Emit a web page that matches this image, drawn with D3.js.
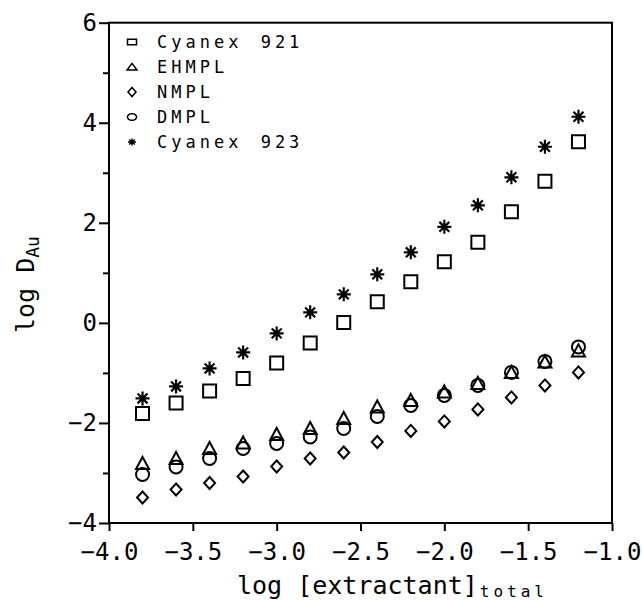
<!DOCTYPE html>
<html>
<head>
<meta charset="utf-8">
<script src="https://cdn.jsdelivr.net/npm/d3@7"></script>
<style>
  html, body { margin: 0; padding: 0; background: #fff; }
  svg { display: block; }
  text { font-family: "DejaVu Sans Mono", "Liberation Mono", monospace; fill: #000; }
</style>
</head>
<body>
<svg id="chart" width="642" height="600"></svg>
<script>
// ---- data ----
const logExtractant = [-3.8, -3.6, -3.4, -3.2, -3.0, -2.8, -2.6, -2.4, -2.2, -2.0, -1.8, -1.6, -1.4, -1.2];
const cyanex921 = [-1.81, -1.60, -1.36, -1.11, -0.80, -0.40, 0.01, 0.42, 0.82, 1.22, 1.61, 2.22, 2.83, 3.62];
const ehmpl     = [-2.81, -2.71, -2.51, -2.40, -2.23, -2.11, -1.91, -1.68, -1.55, -1.38, -1.21, -0.99, -0.78, -0.56];
const nmpl      = [-3.49, -3.33, -3.20, -3.07, -2.87, -2.71, -2.59, -2.38, -2.16, -1.97, -1.73, -1.49, -1.25, -0.99];
const dmpl      = [-3.03, -2.88, -2.71, -2.51, -2.41, -2.28, -2.11, -1.87, -1.65, -1.45, -1.25, -0.99, -0.77, -0.48];
const cyanex923 = [-1.51, -1.27, -0.91, -0.59, -0.21, 0.21, 0.57, 0.97, 1.41, 1.92, 2.35, 2.91, 3.52, 4.12];
const seriesNames = ["Cyanex 921", "EHMPL", "NMPL", "DMPL", "Cyanex 923"];
const seriesSymbols = ["square", "triangle", "diamond", "circle", "asterisk"];
const xTicks = [-4.0, -3.5, -3.0, -2.5, -2.0, -1.5, -1.0];
const yTicks = [-4, -2, 0, 2, 4, 6];
const yMinorTicks = [-3, -1, 1, 3, 5];

const seriesValues = [cyanex921, ehmpl, nmpl, dmpl, cyanex923];

// ---- layout ----
const L = 109, R = 612, T = 22.7, B = 523;
const svg = d3.select("#chart");
const x = d3.scaleLinear().domain([-4, -1]).range([L, R]);
const y = d3.scaleLinear().domain([-4, 6]).range([B, T]);

// ---- symbol shapes ----
function shapePath(type, big) {
  const p = d3.path();
  if (big) {
    switch (type) {
      case "square": p.rect(-6.5, -6.5, 13, 13); break;
      case "triangle": p.moveTo(0, -6.5); p.lineTo(6.5, 5.5); p.lineTo(-6.5, 5.5); p.closePath(); break;
      case "diamond": p.moveTo(0, -6); p.lineTo(5.5, 0); p.lineTo(0, 6); p.lineTo(-5.5, 0); p.closePath(); break;
      case "circle": p.arc(0, 0, 6.5, 0, 2 * Math.PI); p.closePath(); break;
      case "asterisk":
        for (let k = 0; k < 4; k++) {
          const a = k * Math.PI / 4;
          p.moveTo(-7 * Math.cos(a), -7 * Math.sin(a));
          p.lineTo(7 * Math.cos(a), 7 * Math.sin(a));
        }
        break;
    }
  } else {
    switch (type) {
      case "square": p.rect(-4.5, -2.8, 9, 5.6); break;
      case "triangle": p.moveTo(0, -3.6); p.lineTo(5, 3); p.lineTo(-5, 3); p.closePath(); break;
      case "diamond": p.moveTo(0, -4.5); p.lineTo(4, 0); p.lineTo(0, 4.5); p.lineTo(-4, 0); p.closePath(); break;
      case "circle":
        p.moveTo(4.5, 0);
        for (let k = 1; k <= 40; k++) {
          const a = k / 40 * 2 * Math.PI;
          p.lineTo(4.5 * Math.cos(a), 3.3 * Math.sin(a));
        }
        p.closePath();
        break;
      case "asterisk":
        for (let k = 0; k < 4; k++) {
          const a = k * Math.PI / 4;
          p.moveTo(-4 * Math.cos(a), -3.5 * Math.sin(a));
          p.lineTo(4 * Math.cos(a), 3.5 * Math.sin(a));
        }
        break;
    }
  }
  return p.toString();
}

// ---- axes ----
const xAxis = d3.axisBottom(x).tickValues(xTicks).tickSize(8).tickPadding(12)
  .tickFormat(d3.format(".1f"));
const gx = svg.append("g").attr("transform", `translate(0,${B})`).call(xAxis);
gx.select(".domain").remove();
gx.selectAll(".tick line").attr("stroke", "#000").attr("stroke-width", 2);
gx.selectAll(".tick text").attr("font-size", 24).attr("font-family", "DejaVu Sans Mono");

const yAxis = d3.axisLeft(y).tickValues(yTicks).tickSize(10).tickPadding(2)
  .tickFormat(d3.format("d"));
const gy = svg.append("g").attr("transform", `translate(${L},0)`).call(yAxis);
gy.select(".domain").remove();
gy.selectAll(".tick line").attr("stroke", "#000").attr("stroke-width", 2);
gy.selectAll(".tick text").attr("font-size", 24).attr("font-family", "DejaVu Sans Mono");

const yAxisMinor = d3.axisLeft(y).tickValues(yMinorTicks).tickSize(6).tickFormat("");
const gym = svg.append("g").attr("transform", `translate(${L},0)`).call(yAxisMinor);
gym.select(".domain").remove();
gym.selectAll(".tick line").attr("stroke", "#000").attr("stroke-width", 2);

// frame
svg.append("rect").attr("x", L).attr("y", T).attr("width", R - L).attr("height", B - T)
  .attr("fill", "none").attr("stroke", "#000").attr("stroke-width", 2);

// ---- data marks ----
seriesValues.forEach((vals, si) => {
  const type = seriesSymbols[si];
  svg.append("g").selectAll("path")
    .data(vals.map((v, i) => ({ x: logExtractant[i], y: v })))
    .join("path")
    .attr("transform", d => `translate(${x(d.x)},${y(d.y)})`)
    .attr("d", shapePath(type, true))
    .attr("fill", "none")
    .attr("stroke", "#000")
    .attr("stroke-width", type === "asterisk" ? 2.2 : 2);
});

// ---- legend ----
const legend = svg.append("g");
const legendY0 = 42, legendDy = 25;
seriesNames.forEach((name, i) => {
  const yy = legendY0 + i * legendDy;
  legend.append("path")
    .attr("transform", `translate(132,${yy})`)
    .attr("d", shapePath(seriesSymbols[i], false))
    .attr("fill", "none").attr("stroke", "#000").attr("stroke-width", 1.5);
  legend.append("text")
    .attr("x", 157).attr("y", yy + 6)
    .attr("font-size", 17)
    .attr("letter-spacing", 4)
    .attr("word-spacing", 4)
    .text(name);
});

// ---- axis titles ----
const xt = svg.append("text")
  .attr("x", 237).attr("y", 594)
  .attr("font-size", 25);
xt.append("tspan").text("log [extractant]");
xt.append("tspan").attr("font-size", 16).attr("dy", 3).attr("dx", 2).attr("letter-spacing", 4).text("total");

const yt = svg.append("text")
  .attr("transform", "translate(34,333) rotate(-90)")
  .attr("font-size", 25);
yt.append("tspan").text("log D");
yt.append("tspan").attr("font-size", 18).attr("dy", 5).text("Au");
</script>
</body>
</html>
